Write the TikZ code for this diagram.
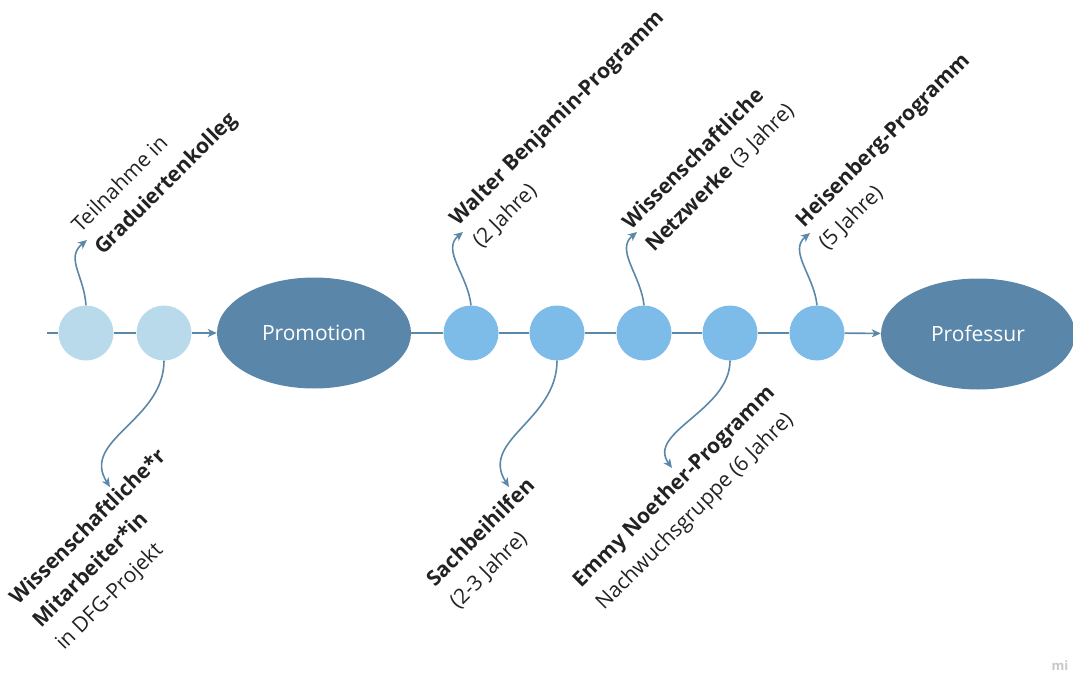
\documentclass[tikz,border=0pt]{standalone}
\usepackage{fontspec}
\setmainfont{Open Sans}
\usetikzlibrary{shapes.geometric,arrows.meta}

\definecolor{linie}{HTML}{5B87A8}
\definecolor{hell}{HTML}{B9DAEB}
\definecolor{mittel}{HTML}{7DBBE9}
\definecolor{dunkel}{HTML}{5A87A9}
\definecolor{schrift}{HTML}{222222}

\begin{document}
\begin{tikzpicture}[x=1pt,y=-1pt,
    punkt/.style={circle,fill=#1,minimum size=55pt,inner sep=0},
    etappe/.style={ellipse,fill=dunkel,minimum width=194pt,minimum height=111pt,inner sep=0,
                   text=white,font=\fontsize{21}{25}\selectfont},
    strich/.style={draw=linie,line width=1.6pt},
    pfeil/.style={strich,-{Stealth[length=9pt,width=8pt,inset=2.5pt]}},
    schild/.style={rotate=45,anchor=base west,align=left,inner sep=0,text=schrift,
                   font=\fontsize{21}{32}\selectfont}]
             \useasboundingbox (0,0) rectangle (1073,674);

             \coordinate (anfang) at (47,333);
             \node[punkt=hell] (k1) at (86,333) {};
             \node[punkt=hell] (k2) at (164,333) {};
             \node[etappe] (promotion) at (314,333) {Promotion};
             \node[punkt=mittel] (k3) at (471,333) {};
             \node[punkt=mittel] (k4) at (557,333) {};
             \node[punkt=mittel] (k5) at (644,333) {};
             \node[punkt=mittel] (k6) at (730,333) {};
             \node[punkt=mittel] (k7) at (817,333) {};
             \node[etappe] (professur) at (978,334) {Professur};

             \draw[strich] (anfang) -- (k1);
             \draw[strich] (k1) -- (k2);
             \draw[pfeil] (k2) -- (promotion);
             \draw[strich] (promotion) -- (k3);
             \draw[strich] (k3) -- (k4);
             \draw[strich] (k4) -- (k5);
             \draw[strich] (k5) -- (k6);
             \draw[strich] (k6) -- (k7);
             \draw[pfeil] (k7) -- (professur);

             \coordinate (z1) at (87,240);
             \coordinate (z3) at (463,232);
             \coordinate (z5) at (637,232);
             \coordinate (z7) at (810,233);
             \coordinate (z2) at (110,487);
             \coordinate (z4) at (509,487);
             \coordinate (z6) at (672,468);

             \draw[pfeil] (k1.north) .. controls +(-2,-30) and +(-22,18) .. (z1);
             \draw[pfeil] (k3.north) .. controls +(-3,-30) and +(-22,18) .. (z3);
             \draw[pfeil] (k5.north) .. controls +(-3,-30) and +(-22,18) .. (z5);
             \draw[pfeil] (k7.north) .. controls +(-3,-30) and +(-22,18) .. (z7);
             \draw[pfeil] (k2.south) .. controls +(0,60) and +(-30,-47) .. (z2);
             \draw[pfeil] (k4.south) .. controls +(0,60) and +(-30,-47) .. (z4);
             \draw[pfeil] (k6.south) .. controls +(0,50) and +(-26,-36) .. (z6);

             \node[schild] (t1) at (103,256) {Teilnahme in\\\textbf{Graduiertenkolleg}};
             \node[schild] (t3) at (481,249) {\textbf{Walter Benjamin-Programm}\\(2 Jahre)};
             \node[schild] (t5) at (654,253) {\textbf{Wissenschaftliche}\\\textbf{Netzwerke} (3 Jahre)};
             \node[schild] (t7) at (827,251) {\textbf{Heisenberg-Programm}\\(5 Jahre)};
             \node[schild] (t2) at (64,651) {\textbf{Wissenschaftliche*r}\\\textbf{Mitarbeiter*in}\\in DFG-Projekt};
             \node[schild] (t4) at (458,610) {\textbf{Sachbeihilfen}\\(2-3 Jahre)};
             \node[schild] (t6) at (604,611) {\textbf{Emmy Noether-Programm}\\Nachwuchsgruppe (6 Jahre)};

             \node[text=black!22,font=\fontsize{13}{13}\selectfont\bfseries] (marke) at (1060,666) {mi};
             \end{tikzpicture}
\end{document}
